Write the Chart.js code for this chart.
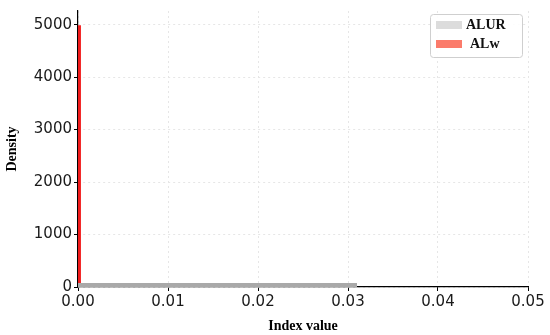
<!DOCTYPE html>
<html>
<head>
<meta charset="utf-8">
<script src="https://cdn.jsdelivr.net/npm/chart.js@4.4.1/dist/chart.umd.min.js"></script>
<style>
  html, body { margin: 0; padding: 0; background: #fff; }
  #wrap { width: 550px; height: 335px; }
</style>
</head>
<body>
<div id="wrap"><canvas id="chart"></canvas></div>
<script>
// Data
const seriesNames = ['ALUR', 'ALw'];
const binStart = [0, -0.00018];       // left edge of each bar (index value)
const binEnd = [0.031, 0.00033];      // right edge
const density = [75, 4990];           // bar height (density)
const barColors = ['#a9a9a9', '#f21c1c'];
const legendColors = ['#dcdcdc', '#fb7b6b'];
const xTicks = [0, 0.01, 0.02, 0.03, 0.04, 0.05];
const yTicks = [0, 1000, 2000, 3000, 4000, 5000];

// Turn each bin into a closed rectangle outline filled down to 0
function rect(i) {
    return [
        { x: binStart[i], y: 0 },
        { x: binStart[i], y: density[i] },
        { x: binEnd[i], y: density[i] },
        { x: binEnd[i], y: 0 }
    ];
}

const datasets = seriesNames.map((name, i) => ({
    label: name,
    data: rect(i),
    borderWidth: 0,
    pointRadius: 0,
    tension: 0,
    fill: 'origin',
    backgroundColor: barColors[i],
    borderColor: barColors[i],
    clip: false
}));

// Legend drawn inside the plot, top right
const boxLegend = {
    id: 'boxLegend',
    afterDraw(chart) {
        const ctx = chart.ctx;
        const x = 430, y = 14, w = 92, h = 43;
        ctx.save();
        ctx.fillStyle = 'rgba(255,255,255,0.9)';
        ctx.strokeStyle = '#cfcfcf';
        ctx.lineWidth = 1;
        ctx.beginPath();
        ctx.roundRect(x + 0.5, y + 0.5, w, h, 3);
        ctx.fill();
        ctx.stroke();
        ctx.font = 'bold 14px "Liberation Serif", serif';
        ctx.textBaseline = 'middle';
        seriesNames.forEach((name, i) => {
            const cy = y + 11 + i * 19;
            ctx.fillStyle = legendColors[i];
            ctx.fillRect(x + 6, cy - 4, 26, 8);
            ctx.fillStyle = '#111';
            ctx.fillText(name, x + 36 + (i === 1 ? 4 : 0), cy);
        });
        ctx.restore();
    }
};

const tickFont = { family: '"DejaVu Sans", sans-serif', size: 15 };
const titleFont = { family: '"Liberation Serif", serif', size: 14, weight: 'bold' };

new Chart(document.getElementById('chart'), {
    type: 'line',
    data: { datasets },
    options: {
        responsive: true,
        maintainAspectRatio: false,
        animation: false,
        layout: { padding: { top: 7, right: 22, left: 0, bottom: 0 } },
        plugins: { legend: { display: false }, tooltip: { enabled: false } },
        scales: {
            x: {
                type: 'linear',
                min: 0,
                max: 0.05,
                afterBuildTicks: s => { s.ticks = xTicks.map(v => ({ value: v })); },
                afterFit: s => { s.height = 48; },
                ticks: {
                    font: tickFont,
                    color: '#1a1a1a',
                    padding: 2,
                    maxRotation: 0,
                    callback: v => v.toFixed(2)
                },
                grid: {
                    color: '#e6e6e6',
                    tickColor: '#000',
                    tickLength: 4,
                    tickBorderDash: []
                },
                border: { color: '#000', width: 1.2, dash: [2, 3] },
                title: { display: true, text: 'Index value', font: titleFont, color: '#000', padding: { top: 6, bottom: 0 } }
            },
            y: {
                min: 0,
                max: 5260,
                afterBuildTicks: s => { s.ticks = yTicks.map(v => ({ value: v })); },
                afterFit: s => { s.width = 78; },
                ticks: { font: tickFont, color: '#1a1a1a', padding: 2, callback: v => String(v) },
                grid: {
                    color: '#e6e6e6',
                    tickColor: '#000',
                    tickLength: 4,
                    tickBorderDash: []
                },
                border: { color: '#000', width: 1.2, dash: [2, 3] },
                title: { display: true, text: 'Density', font: titleFont, color: '#000', padding: { top: 4, bottom: 0 } }
            }
        }
    },
    plugins: [boxLegend]
});
</script>
</body>
</html>
